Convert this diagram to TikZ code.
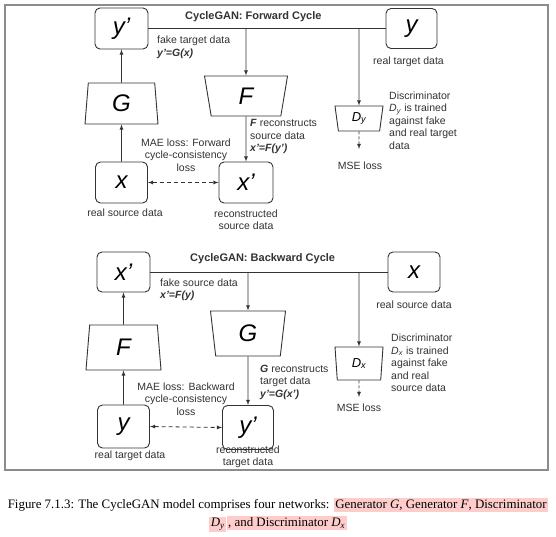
\documentclass[tikz,border=0pt]{standalone}
\usepackage{fontspec}
\setmainfont{Liberation Serif}
\setsansfont{Liberation Sans}
\usepackage{tikz}
\usetikzlibrary{shapes.geometric}
\tikzset{>=latex}
\definecolor{linegray}{HTML}{333333}
\definecolor{framegray}{HTML}{8C8C8C}
\definecolor{markpink}{HTML}{FFCCCC}
\setlength{\fboxsep}{1.5pt}
\tikzset{
  databox/.style={draw=linegray,line width=0.9pt,rounded corners=5pt,minimum width=53pt,minimum height=41pt,inner sep=0pt,font=\sffamily\itshape\fontsize{24}{24}\selectfont},
  netup/.style={trapezium,draw=linegray,line width=0.9pt,trapezium stretches body,inner sep=0pt,font=\sffamily\itshape\fontsize{24}{24}\selectfont},
  netdown/.style={netup,shape border rotate=180},
  disc/.style={netdown,font=\sffamily\itshape\fontsize{13}{13}\selectfont},
  remark/.style={font=\sffamily\fontsize{10.5}{12.5}\selectfont,inner sep=0pt,text=linegray},
  cycletitle/.style={font=\sffamily\bfseries\fontsize{11}{13}\selectfont,inner sep=0pt,text=linegray},
  link/.style={draw=linegray,line width=0.8pt}
}

\begin{document}
\begin{tikzpicture}[x=1pt,y=-1pt]
	\path[use as bounding box,fill=white] (0,0) rectangle (556,537);
	\draw[framegray,line width=1.2pt] (5,5) rectangle (548,470);

	% forward cycle
	\node[cycletitle,anchor=west] (fwdtitle) at (185,17) {CycleGAN: Forward Cycle};
	\node[databox] (yfake) at (121.5,28.5) {y’};
	\node[databox,minimum width=51pt,minimum height=40pt] (yreal) at (411.5,28.5) {y};
	\node[netup,trapezium angle=79,minimum width=73pt,minimum height=41pt] (Gfwd) at (121.5,103.5) {G};
	\node[netdown,trapezium angle=68,minimum width=83pt,minimum height=40pt] (Ffwd) at (246,96) {F};
	\node[disc,trapezium angle=75,minimum width=48pt,minimum height=25pt] (Dy) at (359,118.5) {D\textsubscript{y}};
	\node[databox,minimum width=52pt] (xreal) at (121.5,182.5) {x};
	\node[databox,minimum width=54pt] (xrec) at (246,182.5) {x’};
	\coordinate (dyout) at (359,149);

	\node[remark,anchor=west,align=left] (fwdfake) at (157,47.5) {fake target data\\\textbf{\textit{y’=G(x)}}};
	\node[remark] (yrealtext) at (408.5,62) {real target data};
	\node[remark,anchor=west,align=left] (dytext) at (389,120.5) {Discriminator\\\textit{D}\textsubscript{\textit{y}} is trained\\against fake\\and real target\\data};
	\node[remark] (mse1) at (360,166) {MSE loss};
	\node[remark,anchor=west,align=left] (frec) at (250,136.5) {\textbf{\textit{F}} reconstructs\\source data\\\textbf{\textit{x’=F(y’)}}};
	\node[remark,align=center] (mae1) at (186,155) {MAE loss: Forward\\cycle-consistency\\loss};
	\node[remark] (xrealtext) at (125,213) {real source data};
	\node[remark,align=center] (xrectext) at (246,219.5) {reconstructed\\source data};

	\draw[link] (yfake.east) -- (yreal.west);
	\draw[link,->] (Ffwd |- yfake) -- (Ffwd.north);
	\draw[link,->] (Dy |- yfake) -- (Dy.north);
	\draw[link,->,dash pattern=on 3pt off 2pt] (Dy.south) -- (dyout);
	\draw[link,->] (Gfwd.north) -- (yfake.south);
	\draw[link,->] (xreal.north) -- (Gfwd.south);
	\draw[link,->] (Ffwd.south) -- (xrec.north);
	\draw[link,<->,dash pattern=on 4pt off 3pt] (xreal.east) -- (xrec.west);

	% backward cycle
	\node[cycletitle,anchor=west] (bwdtitle) at (190,259) {CycleGAN: Backward Cycle};
	\node[databox,minimum height=40pt] (xfake) at (123.5,272) {x’};
	\node[databox,minimum width=52pt,minimum height=40pt] (xreal2) at (414,272) {x};
	\node[netup,trapezium angle=77.5,minimum width=75pt,minimum height=45pt] (Fbwd) at (123.5,347.5) {F};
	\node[netdown,trapezium angle=73,minimum width=75pt,minimum height=45pt] (Gbwd) at (248,333.5) {G};
	\node[disc,trapezium angle=78,minimum width=48pt,minimum height=33pt] (Dx) at (359,363.5) {D\textsubscript{x}};
	\node[databox,minimum width=52pt,minimum height=43pt] (yreal2) at (123.5,426.5) {y};
	\node[databox,minimum width=51pt,minimum height=44pt] (yrec) at (248,427.5) {y’};
	\coordinate (dxout) at (359,397);

	\node[remark,anchor=west,align=left] (bwdfake) at (160,290) {fake source data\\\textbf{\textit{x’=F(y)}}};
	\node[remark] (xreal2text) at (414,305) {real source data};
	\node[remark,anchor=west,align=left] (dxtext) at (391,363) {Discriminator\\\textit{D}\textsubscript{\textit{x}} is trained\\against fake\\and real\\source data};
	\node[remark] (mse2) at (359,408) {MSE loss};
	\node[remark,anchor=west,align=left] (grec) at (260,382) {\textbf{\textit{G}} reconstructs\\target data\\\textbf{\textit{y’=G(x’)}}};
	\node[remark,align=center] (mae2) at (186,399) {MAE loss: Backward\\cycle-consistency\\loss};
	\node[remark] (yreal2text) at (130,456) {real target data};
	\node[remark,align=center] (yrectext) at (248,457) {reconstructed\\target data};

	\draw[link] (xfake.east) -- (xreal2.west);
	\draw[link,->] (Gbwd |- xfake) -- (Gbwd.north);
	\draw[link,->] (Dx |- xfake) -- (Dx.north);
	\draw[link,->,dash pattern=on 3pt off 2pt] (Dx.south) -- (dxout);
	\draw[link,->] (Fbwd.north) -- (xfake.south);
	\draw[link,->] (yreal2.north) -- (Fbwd.south);
	\draw[link,->] (Gbwd.south) -- (yrec.north);
	\draw[link,<->,dash pattern=on 4pt off 3pt] (yreal2.east) -- (yrec.west);

	% caption
	\node[font=\fontsize{12.9}{15}\selectfont,inner sep=0pt] (cap1) at (278,505) {Figure 7.1.3: The CycleGAN model comprises four networks: \colorbox{markpink}{Generator \textit{G}, Generator \textit{F}, Discriminator}};
	\node[font=\fontsize{12.9}{15}\selectfont,inner sep=0pt] (cap2) at (278,524) {\colorbox{markpink}{\textit{D}\textsubscript{\textit{y}}}\hspace{0.5pt}\colorbox{markpink}{, and Discriminator \textit{D}\textsubscript{\textit{x}}}};
\end{tikzpicture}
\end{document}
